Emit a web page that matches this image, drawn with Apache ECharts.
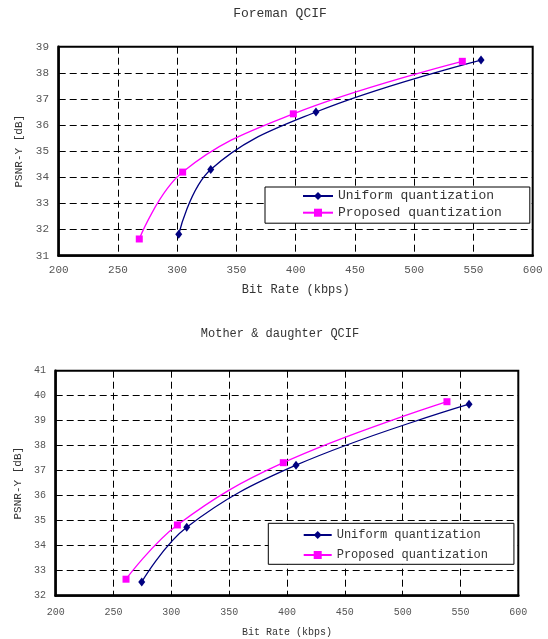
<!DOCTYPE html>
<html>
<head>
<meta charset="utf-8">
<script src="https://cdn.jsdelivr.net/npm/echarts@6/dist/echarts.min.js"></script>
<style>
  html, body { margin: 0; padding: 0; background: #fff; }
  #chart { width: 548px; height: 639px; }
</style>
</head>
<body>
<div id="chart"></div>
<script>
// ---- Data ----
var titles = ['Foreman QCIF', 'Mother & daughter QCIF'];
var seriesNames = ['Uniform quantization', 'Proposed quantization'];
var xTicks = [200, 250, 300, 350, 400, 450, 500, 550, 600];
var yTicks1 = [31, 32, 33, 34, 35, 36, 37, 38, 39];
var yTicks2 = [32, 33, 34, 35, 36, 37, 38, 39, 40, 41];

// Foreman QCIF
var foremanUniformRate = [301.3, 328.3, 417.1, 556.4];
var foremanUniformPsnr = [31.82, 34.30, 36.50, 38.49];
var foremanProposedRate = [268.0, 304.6, 398.0, 540.6];
var foremanProposedPsnr = [31.64, 34.20, 36.43, 38.44];

// Mother & daughter QCIF
var motherUniformRate = [274.4, 313.3, 407.8, 557.4];
var motherUniformPsnr = [32.55, 34.74, 37.22, 39.66];
var motherProposedRate = [260.8, 305.2, 396.8, 538.3];
var motherProposedPsnr = [32.66, 34.83, 37.32, 39.76];

function pairs(xs, ys) { return xs.map(function (x, i) { return [x, ys[i]]; }); }

var FONT = '"Liberation Mono", "DejaVu Sans Mono", monospace';
var gridLine = { show: true, lineStyle: { color: '#000', type: [7, 4], width: 1 } };

function xAxisDef(idx, fs, labelMargin, nameGap) {
  return {
    type: 'value', gridIndex: idx, min: xTicks[0], max: xTicks[xTicks.length - 1], interval: 50,
    name: 'Bit Rate (kbps)', nameLocation: 'middle', nameGap: nameGap,
    nameTextStyle: { fontFamily: FONT, fontSize: idx === 0 ? 12 : 10, color: '#333' },
    axisLine: { show: true, onZero: false, lineStyle: { color: '#000', width: 2.5 } },
    axisTick: { show: false },
    axisLabel: { fontFamily: FONT, fontSize: fs, color: '#555', margin: labelMargin },
    splitLine: gridLine
  };
}
function yAxisDef(idx, ticks, fs, nameGap) {
  return {
    type: 'value', gridIndex: idx, min: ticks[0], max: ticks[ticks.length - 1], interval: 1,
    name: 'PSNR-Y [dB]', nameLocation: 'middle', nameGap: nameGap,
    nameTextStyle: { fontFamily: FONT, fontSize: 11, color: '#333' },
    axisLine: { show: true, onZero: false, lineStyle: { color: '#000', width: 2.5 } },
    axisTick: { show: false },
    axisLabel: { fontFamily: FONT, fontSize: fs, color: '#555', margin: 9.7 },
    splitLine: gridLine
  };
}
function lineSeries(name, data, idx, color, symbol, size) {
  return {
    type: 'line', name: name, xAxisIndex: idx, yAxisIndex: idx, data: data,
    smooth: 0.4, symbol: symbol, symbolSize: size, showSymbol: true,
    lineStyle: { color: color, width: 1.3 }, itemStyle: { color: color },
    emphasis: { disabled: true }, animation: false, z: 3
  };
}

var chart = echarts.init(document.getElementById('chart'), null, { renderer: 'canvas' });
chart.setOption({
  animation: false,
  backgroundColor: '#fff',
  title: [
    { text: titles[0], left: 233.2, top: 7, padding: 0,
      textStyle: { fontFamily: FONT, fontSize: 13, fontWeight: 'normal', color: '#333' } },
    { text: titles[1], left: 200.8, top: 328, padding: 0,
      textStyle: { fontFamily: FONT, fontSize: 12, fontWeight: 'normal', color: '#333' } }
  ],
  grid: [
    { left: 58.7, top: 46.7, width: 474, height: 209, show: true, borderColor: '#000', borderWidth: 2, backgroundColor: 'transparent' },
    { left: 55.7, top: 370.7, width: 462.6, height: 225, show: true, borderColor: '#000', borderWidth: 2, backgroundColor: 'transparent' }
  ],
  xAxis: [xAxisDef(0, 11, 8.8, 28), xAxisDef(1, 10, 11.5, 31.6)],
  yAxis: [yAxisDef(0, yTicks1, 11, 31.5), yAxisDef(1, yTicks2, 10, 27.5)],
  legend: [
    { data: seriesNames, orient: 'vertical', left: 265, top: 187, padding: [2.5, 28, 4, 37],
      itemGap: 3.7, itemWidth: 30, itemHeight: 10, backgroundColor: '#fff', borderColor: '#000', borderWidth: 1,
      textStyle: { fontFamily: FONT, fontSize: 13, color: '#333' }, selectedMode: false, z: 10 },
    { data: seriesNames, orient: 'vertical', left: 268.3, top: 523.3, padding: [5.7, 26, 3.3, 34.4],
      itemGap: 8, itemWidth: 28, itemHeight: 10, backgroundColor: '#fff', borderColor: '#000', borderWidth: 1,
      textStyle: { fontFamily: FONT, fontSize: 12, color: '#333' }, selectedMode: false, z: 10 }
  ],
  series: [
    lineSeries(seriesNames[0], pairs(foremanUniformRate, foremanUniformPsnr), 0, '#000080', 'diamond', [7, 9]),
    lineSeries(seriesNames[1], pairs(foremanProposedRate, foremanProposedPsnr), 0, '#ff00ff', 'rect', 7),
    lineSeries(seriesNames[0], pairs(motherUniformRate, motherUniformPsnr), 1, '#000080', 'diamond', [7, 9]),
    lineSeries(seriesNames[1], pairs(motherProposedRate, motherProposedPsnr), 1, '#ff00ff', 'rect', 7)
  ]
});
</script>
</body>
</html>
